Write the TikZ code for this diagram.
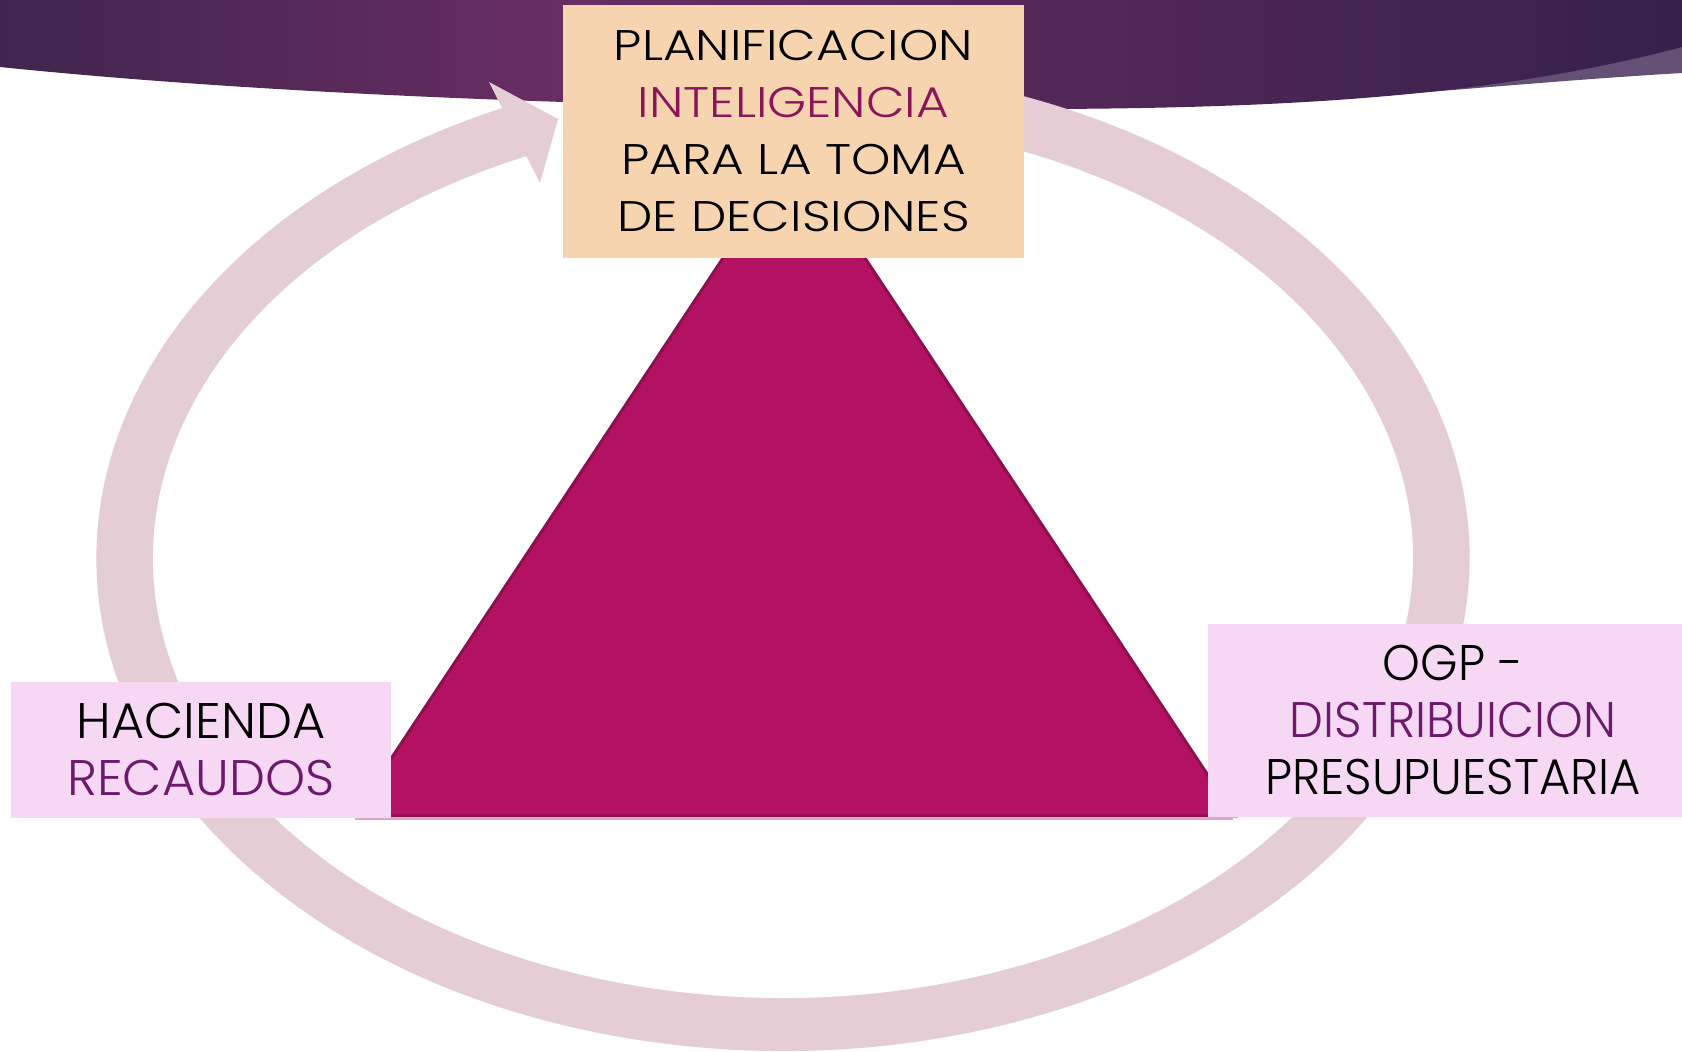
\documentclass[tikz,border=0pt]{standalone}
\usepackage{fontspec}
\setmainfont{Poppins Light}
\definecolor{banL}{HTML}{40264F}
\definecolor{banM}{HTML}{692D62}
\definecolor{banR}{HTML}{36214C}
\definecolor{sliver}{HTML}{645075}
\definecolor{ringc}{HTML}{E5CDD5}
\definecolor{trifill}{HTML}{B31262}
\definecolor{triedge}{HTML}{8E0F50}
\definecolor{trishadow}{HTML}{D9A6C4}
\definecolor{peach}{HTML}{F6D4B0}
\definecolor{pinkbox}{HTML}{F6D7F4}
\definecolor{intel}{HTML}{8A1558}
\definecolor{purptext}{HTML}{6C1A6C}
\pgfdeclarehorizontalshading{bannershade}{100bp}{color(0bp)=(banL); color(25bp)=(banL); color(42bp)=(banM); color(75bp)=(banR); color(100bp)=(banR)}
\newcommand{\topline}[1]{\scalebox{1.17}[1]{#1}}
\newcommand{\sideline}[1]{\scalebox{0.96}[1]{#1}}
\newcommand{\hacline}[1]{\scalebox{1.02}[1]{#1}}
\tikzset{
  ringfill/.style={fill=ringc},
  topbox/.style={fill=peach, inner sep=0pt, align=center, font=\fontsize{21.4pt}{28.5pt}\selectfont},
  sidebox/.style={fill=pinkbox, inner sep=0pt},
  sidetext/.style={inner sep=0pt, align=center, font=\fontsize{25pt}{28.5pt}\selectfont},
}
\begin{document}
\begin{tikzpicture}[x=0.5pt, y=-0.5pt]
\useasboundingbox (0,0) rectangle (1682,1052);
\fill[white] (0,0) rectangle (1682,1052);
% banner
\fill[sliver] (1300,0) -- (1682,0) -- (1682,73) .. controls (1580,79) and (1480,88) .. (1330,100) -- (1300,100) -- cycle;
\shade[shading=bannershade] (0,0) -- (1682,0) -- (1682,47) .. controls (1500,95) and (1300,108) .. (1050,109) .. controls (700,110) and (300,98) .. (0,67) -- cycle;
% ring arrow
\fill[ringfill] (783,558) ++(280:686.5 and 493) arc[start angle=280, end angle=606, x radius=686.5, y radius=493]
  -- ++(606:-56.5 and -53) arc[start angle=606, end angle=280, x radius=630, y radius=440] -- cycle;
\fill[ringfill] (489,82) -- (558,119) -- (540,183) -- cycle;
% triangle
\draw[trishadow, line width=1pt] (355,819.5) -- (1233,819.5);
\node[coordinate] (apex) at (794,151) {};
\node[coordinate] (bl) at (353,816) {};
\node[coordinate] (br) at (1235,816) {};
\filldraw[fill=trifill, draw=triedge, line width=1.5pt, line join=miter] (apex) -- (br) -- (bl) -- cycle;
% boxes
\node[topbox, minimum width=230.5pt, minimum height=126.5pt] (plan) at (793.5,131.5)
  {\topline{PLANIFICACION}\\ \topline{\textcolor{intel}{INTELIGENCIA}}\\ \topline{PARA LA TOMA}\\ \topline{DE DECISIONES}};
\node[sidebox, minimum width=190pt, minimum height=68pt] (hac) at (201,750) {};
\node[sidetext] (hactext) at (hac.center) {\hacline{HACIENDA}\\ \hacline{\textcolor{purptext}{RECAUDOS}}};
\node[sidebox, minimum width=237pt, minimum height=96.5pt] (ogp) at (1445,720.5) {};
\node[sidetext] (ogptext) at (1453,720.5) {\sideline{OGP -}\\ \sideline{\textcolor{purptext}{DISTRIBUICION}}\\ \sideline{PRESUPUESTARIA}};
\end{tikzpicture}
\end{document}
